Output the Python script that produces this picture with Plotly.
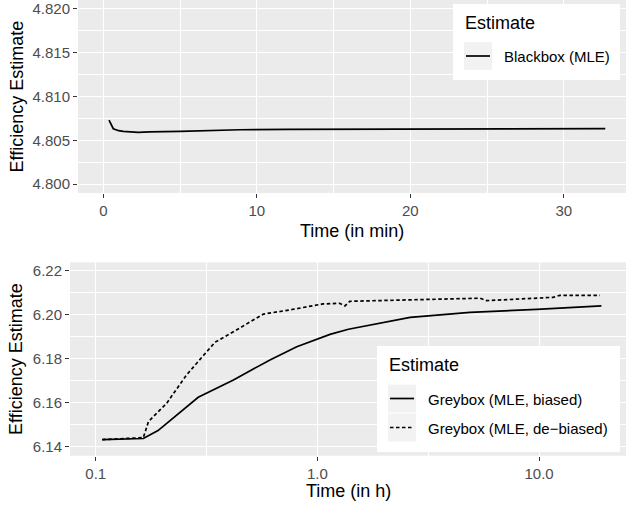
import plotly.graph_objects as go

# ---- data ----
bb_time_min = [0.37, 0.65, 1.0, 1.3, 2.28, 3.0, 5.0, 8.9, 12.0, 16.0, 20.0, 25.0, 30.0, 32.7]
bb_est = [4.80731, 4.80633, 4.80610, 4.80602, 4.80591, 4.80597, 4.80602, 4.80621,
          4.80626, 4.80629, 4.80630, 4.80632, 4.80633, 4.80633]

gb_time_h = [0.107, 0.13, 0.164, 0.191, 0.29, 0.418, 0.611, 0.807, 1.14, 1.38, 2.62, 4.88, 9.75, 19.1]
gb_biased = [6.1433, 6.1434, 6.1438, 6.1474, 6.1625, 6.1704, 6.1795, 6.1855, 6.1911,
             6.1934, 6.1988, 6.2011, 6.2024, 6.2040]

gbd_time_h = [0.107, 0.13, 0.164, 0.173, 0.209, 0.257, 0.305, 0.345, 0.418, 0.571, 0.752,
              1.06, 1.26, 1.33, 1.40, 2.9, 5.41, 5.8, 8.0, 11.6, 12.4, 18.8]
gb_debiased = [6.1433, 6.1436, 6.1442, 6.1515, 6.1598, 6.1727, 6.1813, 6.1875, 6.1923,
               6.2003, 6.2022, 6.2049, 6.2052, 6.2040, 6.2061, 6.2067, 6.2075, 6.2064,
               6.2072, 6.2079, 6.2088, 6.2088]

series_names = ["Blackbox (MLE)", "Greybox (MLE, biased)", "Greybox (MLE, de\u2212biased)"]
legend_title = "Estimate"

top_y_ticks = [4.800, 4.805, 4.810, 4.815, 4.820]
top_x_ticks = [0, 10, 20, 30]
bot_y_ticks = [6.14, 6.16, 6.18, 6.20, 6.22]
bot_x_ticks = [0.1, 1.0, 10.0]
bot_x_labels = ["0.1", "1.0", "10.0"]

W, H = 626, 510
FONT = "Liberation Sans, Arial, Helvetica, sans-serif"
GRID = "white"
TICKC = "#4D4D4D"
DASH = "3.5px,2.5px"
LW = 1.7


def px(x):
    return x / W


def py(y):
    return 1 - y / H


fig = go.Figure()

fig.add_trace(go.Scatter(x=bb_time_min, y=bb_est, mode="lines", name=series_names[0],
                         line=dict(color="black", width=LW), xaxis="x", yaxis="y",
                         showlegend=False))
fig.add_trace(go.Scatter(x=gb_time_h, y=gb_biased, mode="lines", name=series_names[1],
                         line=dict(color="black", width=LW), xaxis="x2", yaxis="y2",
                         showlegend=False))
fig.add_trace(go.Scatter(x=gbd_time_h, y=gb_debiased, mode="lines", name=series_names[2],
                         line=dict(color="black", width=LW, dash=DASH),
                         xaxis="x2", yaxis="y2", showlegend=False))

common_axis = dict(showgrid=True, gridcolor=GRID, gridwidth=1.1, zeroline=False,
                   ticks="outside", ticklen=4, tickwidth=1, tickcolor="#333333",
                   tickfont=dict(family=FONT, size=15, color=TICKC), showline=False)

# ---- legend boxes drawn in ggplot style (box, grey keys, key lines, real text) ----
shapes = []
annotations = []


def legend_box(x0, y0, x1, y1):
    shapes.append(dict(type="rect", xref="paper", yref="paper", x0=px(x0), x1=px(x1),
                       y0=py(y1), y1=py(y0), fillcolor="white", line=dict(width=0), layer="above"))


def legend_key(x0, y0, name, dash, title=None):
    shapes.append(dict(type="rect", xref="paper", yref="paper", x0=px(x0), x1=px(x0 + 28),
                       y0=py(y0 + 28), y1=py(y0), fillcolor="#F2F2F2", line=dict(width=0),
                       layer="above"))
    shapes.append(dict(type="line", xref="paper", yref="paper", x0=px(x0 + 2), x1=px(x0 + 26),
                       y0=py(y0 + 14), y1=py(y0 + 14), layer="above",
                       line=dict(color="black", width=LW, dash=dash)))
    annotations.append(dict(text=name, x=px(x0 + 38), y=py(y0 + 14.5), xref="paper",
                            yref="paper", xanchor="left", yanchor="middle", showarrow=False,
                            font=dict(family=FONT, size=15, color="black")))


def legend_title_text(x, y):
    annotations.append(dict(text=legend_title, x=px(x), y=py(y), xref="paper", yref="paper",
                            xanchor="left", yanchor="middle", showarrow=False,
                            font=dict(family=FONT, size=18, color="black")))


# top legend
legend_box(453, 4, 620, 80)
legend_title_text(463, 23)
legend_key(464, 42, series_names[0], "solid")
# bottom legend
legend_box(377, 346, 620, 452)
legend_title_text(387, 365)
legend_key(388, 384.5, series_names[1], "solid")
legend_key(388, 413.5, series_names[2], DASH)

annotations += [
    dict(text="Time (in min)", x=px(352), y=py(231), xref="paper", yref="paper",
         xanchor="center", yanchor="middle", showarrow=False,
         font=dict(family=FONT, size=18, color="black")),
    dict(text="Time (in h)", x=px(348), y=py(491), xref="paper", yref="paper",
         xanchor="center", yanchor="middle", showarrow=False,
         font=dict(family=FONT, size=18, color="black")),
    dict(text="Efficiency Estimate", x=px(16), y=py(96.5), xref="paper", yref="paper",
         xanchor="center", yanchor="middle", showarrow=False, textangle=-90,
         font=dict(family=FONT, size=18, color="black")),
    dict(text="Efficiency Estimate", x=px(16), y=py(359), xref="paper", yref="paper",
         xanchor="center", yanchor="middle", showarrow=False, textangle=-90,
         font=dict(family=FONT, size=18, color="black")),
]

fig.update_layout(
    width=W, height=H, autosize=False, showlegend=False,
    margin=dict(l=0, r=0, t=0, b=0),
    paper_bgcolor="white", plot_bgcolor="#EBEBEB",
    font=dict(family=FONT, color="black"),
    xaxis=dict(domain=[px(78), 1.0], anchor="y", range=[-1.65, 34.05],
               tickvals=top_x_ticks, automargin=False,
               minor=dict(showgrid=True, gridcolor=GRID, gridwidth=0.55, tickvals=[5, 15, 25, 35]),
               **common_axis),
    yaxis=dict(domain=[py(193), 1.0], anchor="x", range=[4.799, 4.821],
               tickvals=top_y_ticks, tickformat=".3f", automargin=False,
               minor=dict(showgrid=True, gridcolor=GRID, gridwidth=0.55,
                          tickvals=[4.7975, 4.8025, 4.8075, 4.8125, 4.8175]),
               **common_axis),
    xaxis2=dict(domain=[px(70), 1.0], anchor="y2", type="log", range=[-1.116, 1.392],
                tickvals=bot_x_ticks, ticktext=bot_x_labels, automargin=False,
                minor=dict(showgrid=True, gridcolor=GRID, gridwidth=0.55,
                           tickvals=[0.0316, 0.316, 3.16, 31.6]),
                **common_axis),
    yaxis2=dict(domain=[py(455.7), py(262.3)], anchor="x2", range=[6.136, 6.2238],
                tickvals=bot_y_ticks, tickformat=".2f", automargin=False,
                minor=dict(showgrid=True, gridcolor=GRID, gridwidth=0.55,
                           tickvals=[6.13, 6.15, 6.17, 6.19, 6.21]),
                **common_axis),
    shapes=shapes,
    annotations=annotations,
)

fig.write_html("out.html", config={"displayModeBar": False},
               post_script="document.body.style.margin='0';document.body.style.overflow='hidden';")
